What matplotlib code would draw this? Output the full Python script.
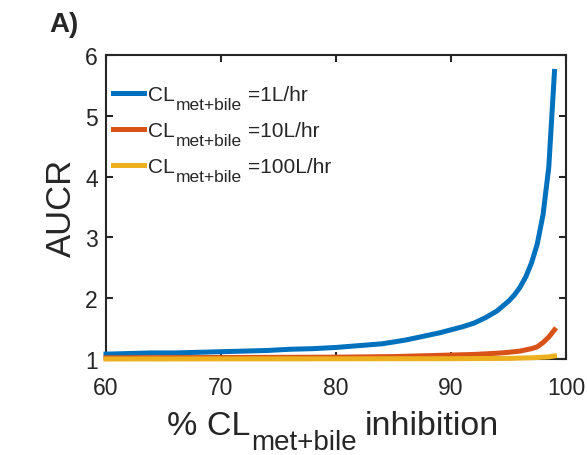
import numpy as np
import matplotlib
matplotlib.use('Agg')
import matplotlib.pyplot as plt

plt.rcParams['font.family'] = 'Liberation Sans'

# % inhibition and AUCR
inh_blue = [60, 62, 64, 66, 68, 70, 72, 74, 76, 78, 80, 82, 84, 85, 86, 87, 88, 89, 90,
            91, 92, 93, 94, 95, 95.5, 96, 96.5, 97, 97.5, 98, 98.5, 99]
aucr_blue = [1.08, 1.09, 1.10, 1.10, 1.11, 1.12, 1.13, 1.14, 1.16, 1.17, 1.19, 1.22, 1.25,
             1.28, 1.31, 1.35, 1.39, 1.43, 1.48, 1.53, 1.59, 1.68, 1.79, 1.95, 2.05, 2.18,
             2.35, 2.58, 2.89, 3.37, 4.15, 5.73]

inh_orange = [60, 70, 80, 85, 88, 90, 92, 93, 94, 95, 96, 96.5, 97, 97.5, 98, 98.5, 99]
aucr_orange = [1.02, 1.025, 1.03, 1.04, 1.055, 1.065, 1.075, 1.085, 1.095, 1.11, 1.13,
               1.15, 1.17, 1.20, 1.27, 1.36, 1.48]

inh_yellow = [60, 70, 80, 90, 95, 97, 98, 98.5, 99]
aucr_yellow = [1.0, 1.002, 1.003, 1.005, 1.01, 1.02, 1.03, 1.035, 1.05]

legend_rest = ['=1L/hr', '=10L/hr', '=100L/hr']
colors = ['#0072BD', '#D95319', '#EDB120']
txt_col = '#262626'

W, H = 587, 456
fig = plt.figure(figsize=(W / 100, H / 100), dpi=100)
ax = fig.add_axes([106 / W, 1 - 360 / H, 460 / W, 304 / H])

ax.plot(inh_blue, aucr_blue, color=colors[0], lw=3.6, label='CL', zorder=3, clip_on=False)
ax.plot(inh_orange, aucr_orange, color=colors[1], lw=3.6, label='CL', zorder=3, clip_on=False)
ax.plot(inh_yellow, aucr_yellow, color=colors[2], lw=3.6, label='CL', zorder=3, clip_on=False)

ax.set_xlim(60, 100)
ax.set_ylim(1, 6)
ax.set_xticks([60, 70, 80, 90, 100])
ax.set_yticks([1, 2, 3, 4, 5, 6])
ax.tick_params(direction='in', length=5, width=1.5, top=True, right=True,
               labelsize=16.5, colors=txt_col)
ax.tick_params(axis='x', pad=12)
ax.tick_params(axis='y', pad=6)
for s in ax.spines.values():
    s.set_linewidth(1.5)
    s.set_color(txt_col)

ax.set_ylabel('AUCR', fontsize=25, color=txt_col, labelpad=5)

leg = ax.legend(loc='upper left', bbox_to_anchor=(7 / 460, 0.902), frameon=False,
                fontsize=15, handlelength=1.5, handletextpad=0.2, borderpad=0,
                borderaxespad=0, labelspacing=0.82)
for t in leg.get_texts():
    t.set_color(txt_col)


def put(x, y, s, size, **kw):
    # x, y in pixels from the top-left corner, y is the baseline
    return fig.text(x / W, 1 - y / H, s, fontsize=size, color=txt_col,
                    ha='left', va='baseline', **kw)


def chain(x, y, pieces, r):
    for s, size, dy, gap in pieces:
        t = put(x, y + dy, s, size)
        x += t.get_window_extent(r).width + gap


put(49, 32, 'A)', 20, fontweight='bold')

fig.canvas.draw()
r = fig.canvas.get_renderer()

# x label with a large subscript, like the original
chain(167, 435, [('% CL', 24.5, 0, 1), ('met+bile', 20, 15, 8), ('inhibition', 24.5, 0, 0)], r)

# legend: subscript and value after each "CL"
for t, rest in zip(leg.get_texts(), legend_rest):
    bb = t.get_window_extent(r)
    bx, by = t.get_transform().transform(t.get_position())
    chain(bb.x1 + 1, H - by, [('met+bile', 12.5, 9, 6), (rest, 15, 0, 0)], r)

fig.savefig('out.png', dpi=100)
